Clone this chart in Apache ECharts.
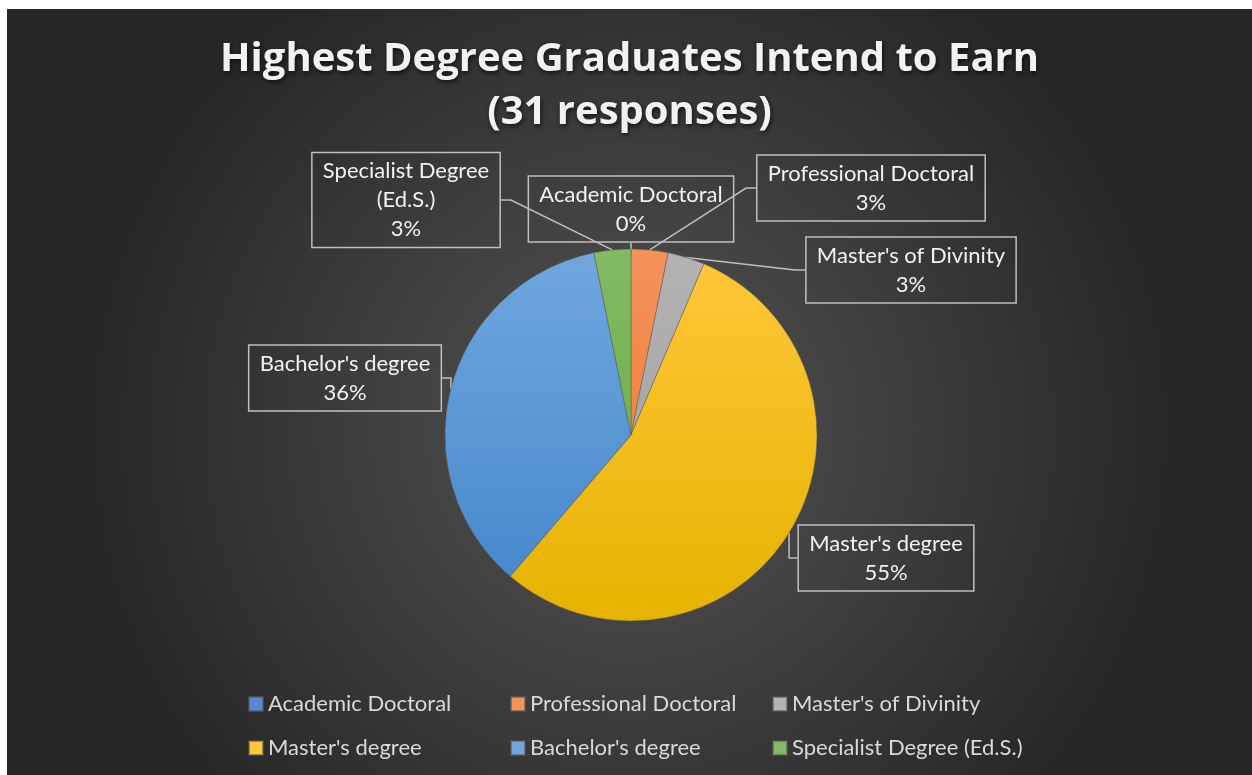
<!DOCTYPE html>
<html>
<head>
<meta charset="utf-8">
<script src="https://cdn.jsdelivr.net/npm/echarts@6/dist/echarts.min.js"></script>
<style>
  html, body { margin: 0; padding: 0; background: #ffffff; }
  #chart { position: absolute; left: 7px; top: 9px; width: 1245px; height: 766px; }
</style>
</head>
<body>
<div id="chart"></div>
<script>
// data (shares in %, 31 responses)
const categories = ['Academic Doctoral', 'Professional Doctoral', "Master's of Divinity",
  "Master's degree", "Bachelor's degree", 'Specialist Degree (Ed.S.)'];
const shares = [0, 3.2, 3.2, 54.8, 35.5, 3.2];
const titleText = 'Highest Degree Graduates Intend to Earn\n(31 responses)';

// slice colours (top / bottom of the vertical gradient)
const topColors = ['#5b85d0', '#f4925c', '#b3b3b3', '#ffc73a', '#70a7de', '#82bb62'];
const bottomColors = ['#3d68b8', '#ee7424', '#9d9d9d', '#e6b300', '#4286cb', '#66a83c'];

// callout box centres (px, chart coords)
const labelPos = [[624, 200], [864, 179], [904, 261], [879, 549], [338, 369], [399, 191]];

const myChart = echarts.init(document.getElementById('chart'));

const grad = (i) => new echarts.graphic.LinearGradient(0, 241, 0, 611, [
  {offset: 0, color: topColors[i]},
  {offset: 1, color: bottomColors[i]}
], true);

const option = {
  backgroundColor: new echarts.graphic.RadialGradient(0.5, 0.55, 0.7, [
    {offset: 0, color: '#555555'},
    {offset: 1, color: '#272727'}
  ]),
  title: {
    text: titleText,
    left: 'center',
    top: 19,
    textStyle: {
      fontFamily: 'Open Sans',
      fontWeight: 'bold',
      fontSize: 40,
      lineHeight: 53,
      color: '#f2f2f2',
      textShadowColor: 'rgba(0,0,0,0.7)',
      textShadowBlur: 5,
      textShadowOffsetX: 1,
      textShadowOffsetY: 2
    }
  },
  legend: {
    data: categories,
    left: 241,
    top: 683,
    width: 800,
    padding: 0,
    itemGap: 20,
    itemWidth: 14,
    itemHeight: 14,
    icon: 'rect',
    textStyle: {
      fontFamily: 'Lato',
      fontSize: 22,
      color: '#d9d9d9',
      width: 222,
      lineHeight: 24
    }
  },
  series: [
    {
      type: 'pie',
      center: [624, 426],
      radius: 186,
      startAngle: 90,
      clockwise: true,
      avoidLabelOverlap: false,
      animation: false,
      data: categories.map((c, i) => ({
        name: c,
        value: shares[i],
        itemStyle: {color: grad(i)}
      })),
      itemStyle: {
        borderColor: 'rgba(90,90,90,0.6)',
        borderWidth: 0.8
      },
      label: {
        show: true,
        fontFamily: 'Lato',
        fontSize: 22,
        lineHeight: 29,
        color: '#f2f2f2',
        align: 'center',
        borderColor: '#bfbfbf',
        borderWidth: 1.5,
        padding: [4, 11, 4, 11],
        formatter: (p) => {
          let name = p.name.replace(' (Ed.S.)', '\n(Ed.S.)');
          return name + '\n' + Math.round(p.percent) + '%';
        }
      },
      labelLine: {
        show: true,
        length: 20,
        length2: 10,
        lineStyle: {color: '#bfbfbf', width: 1.5}
      },
      labelLayout: (params) => {
        const pos = labelPos[params.dataIndex];
        return {
          x: pos[0],
          y: pos[1],
          align: 'center',
          verticalAlign: 'middle'
        };
      }
    }
  ]
};

myChart.setOption(option);
window.addEventListener('resize', function () {
  myChart.resize();
});
</script>
</body>
</html>
